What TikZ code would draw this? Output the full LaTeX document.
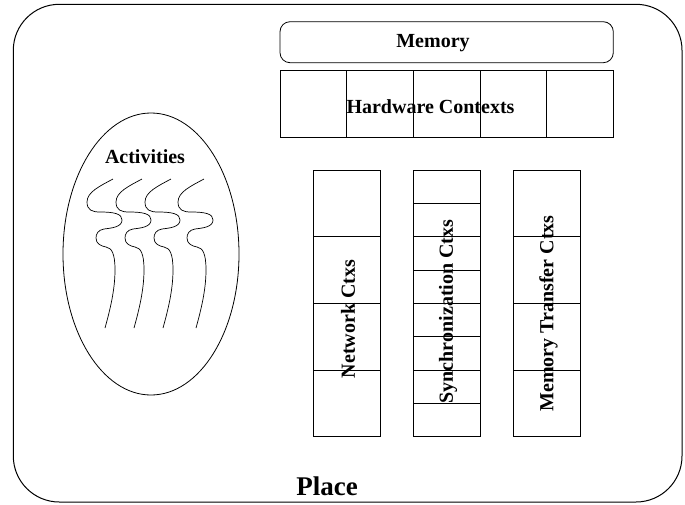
\documentclass[tikz,border=0pt]{standalone}
\usepackage{fontspec}
\setmainfont{Liberation Serif}
\begin{document}
\begin{tikzpicture}[x=1pt,y=-1pt,
  line width=0.8pt,
  lbl/.style={font=\bfseries\fontsize{20}{24}\selectfont, inner sep=0pt},
  vlbl/.style={lbl, rotate=90},
  cell/.style={draw, line width=0.7pt}]
\useasboundingbox (0,0) rectangle (685,504);
% outer place
\draw[line width=1pt, rounded corners=46pt] (13.3,4.3) rectangle (682,502);
\node[font=\bfseries\fontsize{27}{30}\selectfont, inner sep=0pt, anchor=base] (place) at (327,495) {Place};
% memory
\draw[rounded corners=10pt] (280,21.7) rectangle (613.3,62.7);
\node[lbl, anchor=base] (memory) at (433,47) {Memory};
% hardware contexts
\foreach \i in {0,...,4} {
  \draw[cell] ({280+66.67*\i},70.7) rectangle ({280+66.67*(\i+1)},137.3);
}
\node[lbl, anchor=base] (hw) at (430.5,113) {Hardware Contexts};
% activities
\draw (151,254) ellipse [x radius=88, y radius=141];
\node[lbl, anchor=base] (act) at (145,163) {Activities};
\foreach \dx in {0,29,58,91} {
  \begin{scope}[xshift=\dx]
  \draw[line width=0.7pt] (113,179) .. controls (100,186) and (87,192) .. (87,202)
    .. controls (87,210) and (92,212) .. (100,212)
    .. controls (115,212) and (122,214) .. (122,220)
    .. controls (122,227) and (112,228) .. (104,229)
    .. controls (98,230) and (96,234) .. (96,238)
    .. controls (96,244) and (101,246) .. (106,247)
    .. controls (112,248) and (115,254) .. (115,270)
    .. controls (115,290) and (110,310) .. (105,328);
  \end{scope}
}
% network ctxs
\foreach \i in {0,...,3} {
  \draw[cell] (313.3,{170+66.67*\i}) rectangle (380,{170+66.67*(\i+1)});
}
\node[vlbl] (net) at (348,319) {Network Ctxs};
% synchronization ctxs
\foreach \i in {0,...,7} {
  \draw[cell] (413.3,{170+33.33*\i}) rectangle (480,{170+33.33*(\i+1)});
}
\node[vlbl] (sync) at (448,311.5) {Synchronization Ctxs};
% memory transfer ctxs
\foreach \i in {0,...,3} {
  \draw[cell] (513.3,{170+66.67*\i}) rectangle (580,{170+66.67*(\i+1)});
}
\node[vlbl] (mt) at (548.5,313.5) {Memory Transfer Ctxs};
\end{tikzpicture}
\end{document}
